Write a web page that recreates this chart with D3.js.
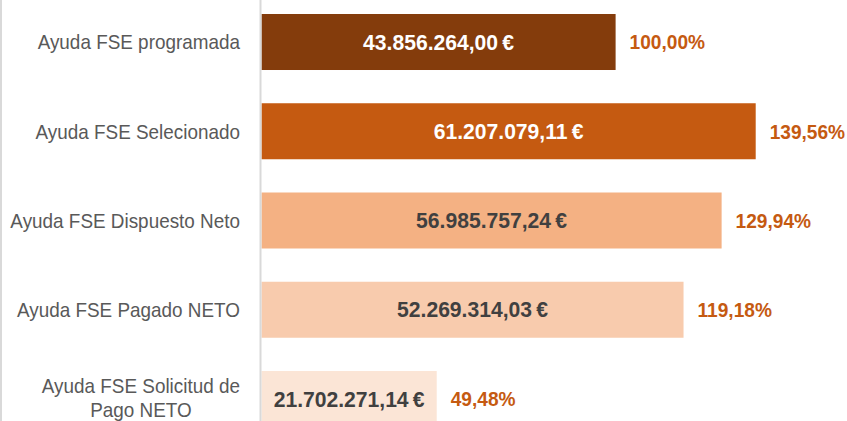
<!DOCTYPE html>
<html>
<head>
<meta charset="utf-8">
<script src="https://cdn.jsdelivr.net/npm/d3@7"></script>
<style>
    body { margin: 0; background: #fff; }
    svg { display: block; }
</style>
</head>
<body>
<svg id="Target" width="847" height="421"></svg>
<script>
// chart data
const categories = [
    "Ayuda FSE programada",
    "Ayuda FSE Selecionado",
    "Ayuda FSE Dispuesto Neto",
    "Ayuda FSE Pagado NETO",
    "Ayuda FSE Solicitud de|Pago NETO"
];
const amounts = [43856264.00, 61207079.11, 56985757.24, 52269314.03, 21702271.14];
const amountLabels = ["43.856.264,00\u2009€", "61.207.079,11\u2009€", "56.985.757,24\u2009€", "52.269.314,03\u2009€", "21.702.271,14\u2009€"];
const percentLabels = ["100,00%", "139,56%", "129,94%", "119,18%", "49,48%"];

const barColors = ["#843C0C", "#C55A11", "#F4B183", "#F8CBAD", "#FBE5D6"];
const textColors = ["#ffffff", "#ffffff", "#404040", "#404040", "#404040"];
const font = "'Liberation Sans', Arial, sans-serif";

const svg = d3.select("#Target");
const rows = d3.range(categories.length);

// scales
const x = d3.scaleLinear()
    .domain([0, d3.max(amounts)])
    .range([261.5, 755.7]);

const y = d3.scaleBand()
    .domain(rows)
    .range([-2.6, 443.6])
    .paddingInner(0.3725)
    .paddingOuter(0.186);

const mid = i => y(i) + y.bandwidth() / 2;
// the original uses a narrow face; squeeze the regular one horizontally
const place = (px, py, sx) => `translate(${px},${py}) scale(${sx},1)`;

// left frame line
svg.append("line")
    .attr("x1", 1).attr("x2", 1)
    .attr("y1", 0).attr("y2", 421)
    .attr("stroke", "#d9d9d9")
    .attr("stroke-width", 2);

// bars
svg.selectAll("rect.bar")
    .data(rows)
    .enter()
    .append("rect")
    .attr("class", "bar")
    .attr("x", x(0))
    .attr("y", i => y(i))
    .attr("width", i => x(amounts[i]) - x(0))
    .attr("height", y.bandwidth())
    .attr("fill", i => barColors[i]);

// category axis line
svg.append("line")
    .attr("x1", 260.5).attr("x2", 260.5)
    .attr("y1", 0).attr("y2", 421)
    .attr("stroke", "#d9d9d9")
    .attr("stroke-width", 2);

// category labels
const catSqueeze = 0.9;
const labels = svg.selectAll("text.cat")
    .data(rows)
    .enter()
    .append("text")
    .attr("class", "cat")
    .attr("font-family", font)
    .attr("font-size", 21)
    .attr("fill", "#595959");

labels.each(function(i) {
    const lines = categories[i].split("|");
    const t = d3.select(this);
    if (lines.length === 1) {
        t.attr("transform", place(240, mid(i), catSqueeze)).attr("dy", "0.35em")
            .attr("text-anchor", "end").text(lines[0]);
    } else {
        // multi-line labels are centred under their widest line
        t.attr("text-anchor", "middle");
        const spans = lines.map((l, k) => t.append("tspan").text(l)
            .attr("x", 0)
            .attr("y", (k - (lines.length - 1) / 2) * 24)
            .attr("dy", "0.35em"));
        const w = d3.max(spans, s => s.node().getComputedTextLength()) * catSqueeze;
        t.attr("transform", place(240 - w / 2, mid(i) - 1, catSqueeze));
    }
});

// value labels inside bars
svg.selectAll("text.amount")
    .data(rows)
    .enter()
    .append("text")
    .attr("class", "amount")
    .attr("transform", i => place((x(0) + x(amounts[i])) / 2, mid(i), 0.96))
    .attr("dy", "0.35em")
    .attr("text-anchor", "middle")
    .attr("font-family", font)
    .attr("font-weight", "bold")
    .attr("font-size", 22)
    .attr("fill", i => textColors[i])
    .text(i => amountLabels[i]);

// percentage labels after bars
svg.selectAll("text.pct")
    .data(rows)
    .enter()
    .append("text")
    .attr("class", "pct")
    .attr("transform", i => place(x(amounts[i]) + 14, mid(i), 0.91))
    .attr("dy", "0.35em")
    .attr("font-family", font)
    .attr("font-weight", "bold")
    .attr("font-size", 21)
    .attr("fill", "#C55A11")
    .text(i => percentLabels[i]);
</script>
</body>
</html>
